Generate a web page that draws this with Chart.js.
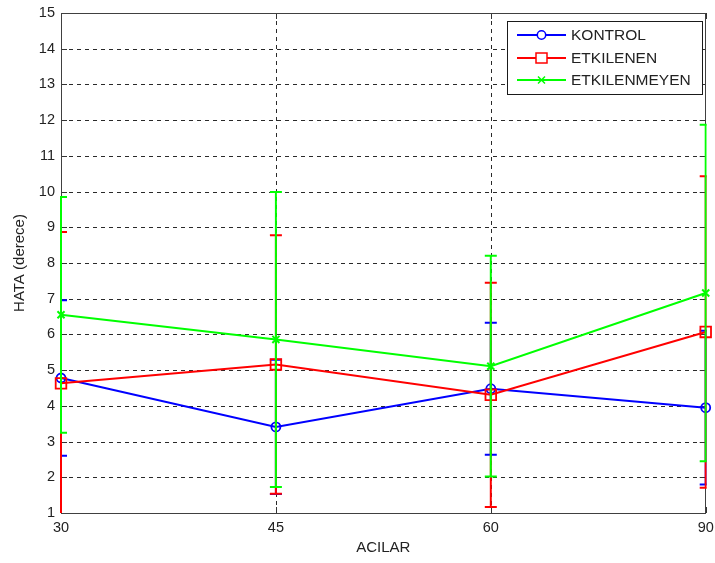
<!DOCTYPE html>
<html>
<head>
<meta charset="utf-8">
<script src="https://cdn.jsdelivr.net/npm/chart.js@4/dist/chart.umd.min.js"></script>
<style>
  html, body { margin: 0; padding: 0; background: #ffffff; }
  #wrap { width: 715px; height: 563px; }
</style>
</head>
<body>
<div id="wrap"><canvas id="c" width="715" height="563"></canvas></div>
<script>
// ---- data ----
const categories = ['30', '45', '60', '90'];
const yTickMin = 1;
const yTickMax = 15;

const kontrolMean = [4.78, 3.41, 4.48, 3.95];
const kontrolErr  = [2.18, 1.88, 1.85, 2.15];

const etkilenenMean = [4.63, 5.16, 4.31, 6.07];
const etkilenenErr  = [4.24, 3.62, 3.14, 4.36];

const etkilenmeyenMean = [6.55, 5.86, 5.11, 7.16];
const etkilenmeyenErr  = [3.30, 4.13, 3.09, 4.71];

const seriesNames = ['KONTROL', 'ETKILENEN', 'ETKILENMEYEN'];
const xTitle = 'ACILAR';
const yTitle = 'HATA (derece)';

// ---- styling ----
const FONT = "'Liberation Sans', Arial, sans-serif";
const TEXT = '#222222';
const BLUE = '#0000ff', RED = '#ff0000', GREEN = '#00ff00';

// grid, inner ticks and box (MATLAB style)
const axesBoxPlugin = {
  id: 'axesBox',
  beforeDatasetsDraw(chart) {
    const ctx = chart.ctx;
    const { left, right, top, bottom } = chart.chartArea;
    const xs = chart.scales.x, ys = chart.scales.y;
    ctx.save();
    ctx.lineWidth = 1;
    ctx.strokeStyle = '#2a2a2a';
    ctx.setLineDash([4, 4]);
    ys.ticks.forEach(t => {
      const y = Math.round(ys.getPixelForValue(t.value)) + 0.5;
      if (y <= top + 1 || y >= bottom - 1) return;
      ctx.beginPath(); ctx.moveTo(left, y); ctx.lineTo(right, y); ctx.stroke();
    });
    xs.ticks.forEach((t, i) => {
      const x = Math.round(xs.getPixelForValue(i)) + 0.5;
      if (x <= left + 1 || x >= right - 1) return;
      ctx.beginPath(); ctx.moveTo(x, top); ctx.lineTo(x, bottom); ctx.stroke();
    });
    ctx.setLineDash([]);
    ctx.strokeStyle = '#333333';
    const tl = 6;
    ys.ticks.forEach(t => {
      const y = Math.round(ys.getPixelForValue(t.value)) + 0.5;
      ctx.beginPath();
      ctx.moveTo(left, y); ctx.lineTo(left + tl, y);
      ctx.moveTo(right, y); ctx.lineTo(right - tl, y);
      ctx.stroke();
    });
    xs.ticks.forEach((t, i) => {
      const x = Math.round(xs.getPixelForValue(i)) + 0.5;
      ctx.beginPath();
      ctx.moveTo(x, bottom); ctx.lineTo(x, bottom - tl);
      ctx.moveTo(x, top); ctx.lineTo(x, top + tl);
      ctx.stroke();
    });
    ctx.strokeStyle = '#404040';
    ctx.strokeRect(Math.round(left) + 0.5, Math.round(top) + 0.5,
                   Math.round(right - left) - 1, Math.round(bottom - top));
    ctx.restore();
  }
};

// error bars drawn just before each dataset
const errorBarPlugin = {
  id: 'errorBars',
  beforeDatasetDraw(chart, args) {
    const ds = chart.data.datasets[args.index];
    if (!ds.errors) return;
    const ctx = chart.ctx;
    const ys = chart.scales.y;
    const { left, right, top, bottom } = chart.chartArea;
    ctx.save();
    ctx.beginPath();
    ctx.rect(left - 1, top, right - left + 2, bottom - top);
    ctx.clip();
    ctx.strokeStyle = ds.borderColor;
    ctx.lineWidth = 2;
    const cap = 6;
    args.meta.data.forEach((pt, i) => {
      const m = ds.data[i], e = ds.errors[i];
      const yHi = ys.getPixelForValue(m + e);
      const yLo = ys.getPixelForValue(m - e);
      ctx.beginPath();
      ctx.moveTo(pt.x, yHi); ctx.lineTo(pt.x, yLo);
      ctx.moveTo(pt.x - cap, yHi); ctx.lineTo(pt.x + cap, yHi);
      ctx.moveTo(pt.x - cap, yLo); ctx.lineTo(pt.x + cap, yLo);
      ctx.stroke();
    });
    ctx.restore();
  }
};

// MATLAB-like legend box inside the axes
const legendBoxPlugin = {
  id: 'legendBox',
  afterDraw(chart) {
    const ctx = chart.ctx;
    const bx = 507.5, by = 21.5, bw = 195, bh = 73;
    ctx.save();
    ctx.fillStyle = '#ffffff';
    ctx.fillRect(bx, by, bw, bh);
    ctx.strokeStyle = '#1a1a1a';
    ctx.lineWidth = 1;
    ctx.strokeRect(bx, by, bw, bh);
    const rows = [35, 58, 80];
    chart.data.datasets.forEach((ds, i) => {
      const y = rows[i];
      ctx.strokeStyle = ds.borderColor;
      ctx.lineWidth = 2;
      ctx.beginPath(); ctx.moveTo(517, y); ctx.lineTo(566, y); ctx.stroke();
      ctx.lineWidth = 1.5;
      if (ds.pointStyle === 'circle') {
        ctx.fillStyle = '#ffffff';
        ctx.beginPath(); ctx.arc(541.5, y, 4.2, 0, Math.PI * 2); ctx.fill(); ctx.stroke();
      } else if (ds.pointStyle === 'rect') {
        ctx.fillStyle = '#ffffff';
        ctx.fillRect(536, y - 5, 11, 10);
        ctx.strokeRect(536, y - 5, 11, 10);
      } else {
        ctx.beginPath();
        ctx.moveTo(538, y - 3.5); ctx.lineTo(545, y + 3.5);
        ctx.moveTo(538, y + 3.5); ctx.lineTo(545, y - 3.5);
        ctx.stroke();
      }
      ctx.fillStyle = TEXT;
      ctx.font = '15.5px ' + FONT;
      ctx.textBaseline = 'middle';
      ctx.textAlign = 'left';
      ctx.fillText(ds.label, 571, y + 1);
    });
    ctx.restore();
  }
};

const chart = new Chart(document.getElementById('c'), {
  type: 'line',
  data: {
    labels: categories,
    datasets: [
      {
        label: seriesNames[0], data: kontrolMean, errors: kontrolErr,
        borderColor: BLUE, backgroundColor: BLUE, borderWidth: 2,
        pointStyle: 'circle', pointRadius: 4.5, pointBorderWidth: 1.8,
        pointBackgroundColor: 'rgba(0,0,0,0)', pointBorderColor: BLUE,
        tension: 0, clip: false, order: 2
      },
      {
        label: seriesNames[1], data: etkilenenMean, errors: etkilenenErr,
        borderColor: RED, backgroundColor: RED, borderWidth: 2,
        pointStyle: 'rect', pointRadius: 7.5, pointBorderWidth: 1.8,
        pointBackgroundColor: 'rgba(0,0,0,0)', pointBorderColor: RED,
        tension: 0, clip: false, order: 1
      },
      {
        label: seriesNames[2], data: etkilenmeyenMean, errors: etkilenmeyenErr,
        borderColor: GREEN, backgroundColor: GREEN, borderWidth: 2,
        pointStyle: 'crossRot', pointRadius: 5, pointBorderWidth: 2,
        pointBackgroundColor: GREEN, pointBorderColor: GREEN,
        tension: 0, clip: false, order: 0
      }
    ]
  },
  options: {
    responsive: false,
    animation: false,
    events: [],
    layout: { padding: { top: 13, right: 6, bottom: 0, left: 0 } },
    plugins: { legend: { display: false }, tooltip: { enabled: false } },
    scales: {
      x: {
        type: 'category',
        offset: false,
        grid: { display: false, drawTicks: false },
        border: { display: false },
        ticks: {
          color: TEXT, font: { family: FONT, size: 14.5 }, padding: 6,
          autoSkip: false, maxRotation: 0, minRotation: 0
        },
        title: {
          display: true, text: xTitle, color: TEXT,
          font: { family: FONT, size: 15 }, padding: { top: 0, bottom: 6 }
        },
        afterFit(scale) { scale.height = 50; scale.paddingLeft = 0; scale.paddingRight = 0; }
      },
      y: {
        type: 'linear',
        min: yTickMin, max: yTickMax,
        grid: { display: false, drawTicks: false },
        border: { display: false },
        ticks: {
          stepSize: 1, color: TEXT, font: { family: FONT, size: 14.5 }, padding: 6
        },
        title: {
          display: true, text: yTitle, color: TEXT,
          font: { family: FONT, size: 15 }, padding: { top: 11, bottom: 0 }
        },
        afterFit(scale) { scale.width = 61; scale.paddingTop = 0; scale.paddingBottom = 0; }
      }
    }
  },
  plugins: [axesBoxPlugin, errorBarPlugin, legendBoxPlugin]
});
</script>
</body>
</html>
